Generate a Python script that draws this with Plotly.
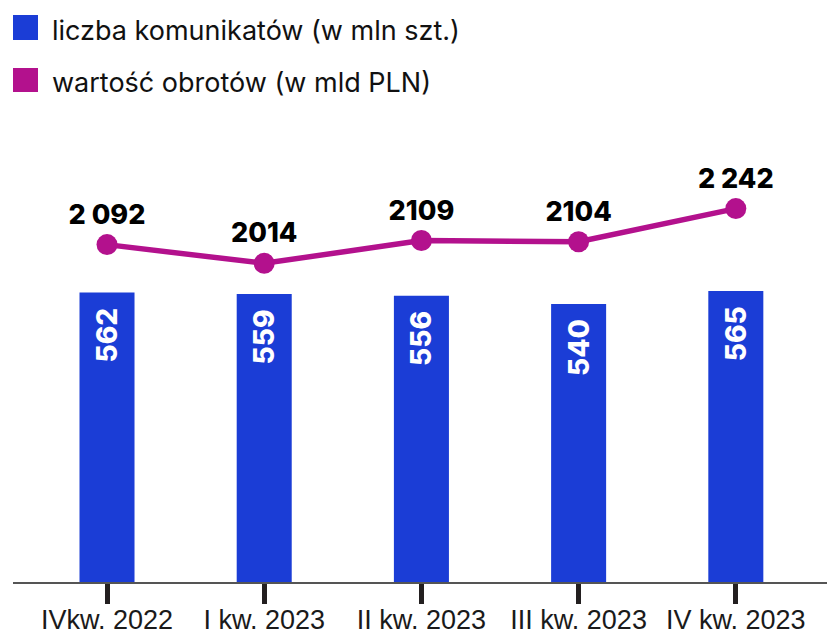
import plotly.graph_objects as go

categories = ["IVkw. 2022", "I kw. 2023", "II kw. 2023", "III kw. 2023", "IV kw. 2023"]
messages = [562, 559, 556, 540, 565]          # liczba komunikatów (w mln szt.)
turnover = [2092, 2014, 2109, 2104, 2242]     # wartość obrotów (w mld PLN)
turnover_labels = ["2 092", "2014", "2109", "2104", "2 242"]
series_names = ["liczba komunikatów (w mln szt.)", "wartość obrotów (w mld PLN)"]

BLUE = "#1b3dd6"
MAGENTA = "#b3118d"

W, H = 827, 636
L, R, T, B = 13, 0, 130, 54
PW, PH = W - L - R, H - T - B


def px_x(x):
    return (x - L) / PW


def px_y(y):
    return (H - B - y) / PH


fig = go.Figure()

fig.add_trace(go.Bar(
    x=categories, y=messages, name=series_names[0],
    marker=dict(color=BLUE, line=dict(width=0)),
    width=0.35,
    texttemplate="%{y}\u00a0\u00a0", textposition="inside", insidetextanchor="end",
    textangle=-90,
    textfont=dict(family="Inter", size=28, color="white", weight=800),
    showlegend=False, yaxis="y",
))

fig.add_trace(go.Scatter(
    x=categories, y=turnover, name=series_names[1],
    mode="lines+markers+text",
    line=dict(color=MAGENTA, width=5.5),
    marker=dict(color=MAGENTA, size=21),
    text=turnover_labels, textposition="top center",
    textfont=dict(family="Inter", size=27, color="black", weight=800),
    showlegend=False, yaxis="y2", cliponaxis=False,
))

shapes = []
annotations = []
legend_rows = [(15, 40, 30), (68, 92, 82)]
for (y0, y1, yc), name, col in zip(legend_rows, series_names, [BLUE, MAGENTA]):
    shapes.append(dict(type="rect", xref="paper", yref="paper",
                       x0=px_x(13), x1=px_x(38), y0=px_y(y1), y1=px_y(y0),
                       fillcolor=col, line=dict(width=0)))
    annotations.append(dict(text=name, xref="paper", yref="paper",
                            x=px_x(50), y=px_y(yc), xanchor="left", yanchor="middle",
                            showarrow=False,
                            font=dict(family="Inter", size=27, color="#111")))

fig.update_layout(
    width=W, height=H,
    margin=dict(l=L, r=R, t=T, b=B, pad=0, autoexpand=False),
    paper_bgcolor="white", plot_bgcolor="white",
    shapes=shapes, annotations=annotations,
    xaxis=dict(
        type="category", range=[-0.598, 4.58], automargin=False,
        showline=True, linecolor="#555555", linewidth=2,
        ticks="outside", ticklen=20, tickwidth=5, tickcolor="#231f20",
        tickangle=0, ticklabelstandoff=-7,
        tickfont=dict(family="Liberation Sans", size=27, color="#1a1a1a"),
        showgrid=False, zeroline=False,
    ),
    yaxis=dict(range=[0, 877.7], visible=False, showgrid=False, zeroline=False),
    yaxis2=dict(range=[686, 2569.6], overlaying="y", visible=False,
                showgrid=False, zeroline=False),
    showlegend=False,
)

fig.write_html(
    "out.html",
    config={"displayModeBar": False},
    post_script="document.body.style.margin='0';document.body.style.overflow='hidden';",
)
